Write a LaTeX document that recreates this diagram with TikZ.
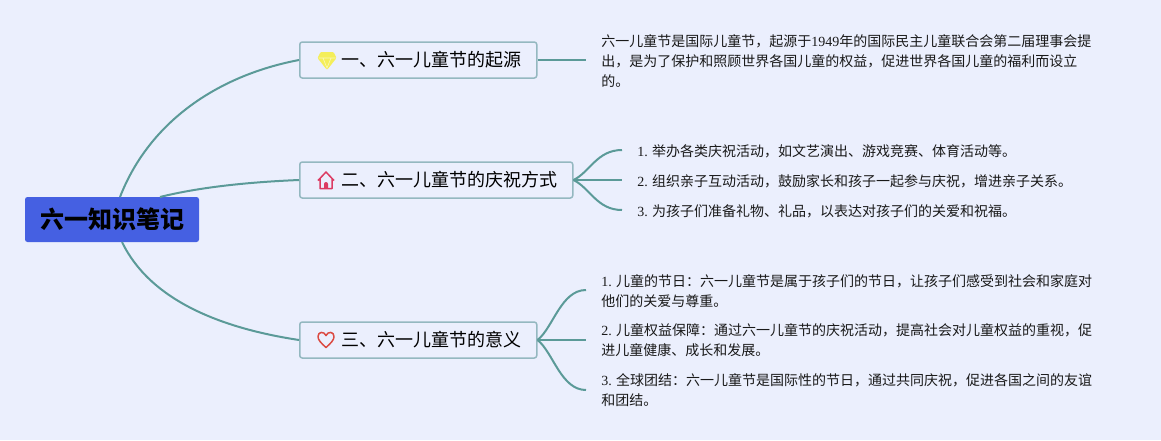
\documentclass[tikz,border=0pt]{standalone}
\usepackage{fontspec}
\setmainfont{Noto Sans CJK SC}
\newfontfamily\latin{Liberation Serif}
\usepackage{tikz}
\usetikzlibrary{arrows.meta,positioning,calc}
\definecolor{pagebg}{HTML}{EBEFFD}
\definecolor{rootblue}{HTML}{4560E2}
\definecolor{boxline}{HTML}{94B8C0}
\definecolor{linkteal}{HTML}{5B9A98}
\definecolor{gemyellow}{HTML}{F4EE5A}
\definecolor{housered}{HTML}{DC3B62}
\definecolor{heartred}{HTML}{DB4A42}

\begin{document}
\begin{tikzpicture}[
    x=1pt, y=-1pt,
    rootbox/.style={rectangle, fill=rootblue, rounded corners=2.5pt, inner sep=0pt,
                minimum width=174pt, minimum height=45pt,
                font=\fontsize{24}{28}\selectfont\bfseries},
    topic/.style={rectangle, draw=boxline, fill=pagebg, line width=1.5pt, rounded corners=2.5pt,
                inner sep=0pt, minimum height=36pt, anchor=west, align=left,
                font=\fontsize{18}{22}\selectfont},
    note/.style={anchor=west, align=left, inner xsep=15.2pt, inner ysep=0pt,
                font=\fontsize{14}{20}\selectfont, text=black!90},
    link/.style={draw=linkteal, line width=2pt},
]
\useasboundingbox (0,0) rectangle (1161,440);
\fill[pagebg] (0,0) rectangle (1161,440);

% --- Links from the root ---
\coordinate (roota) at (120,197);
\coordinate (rootb) at (160,197);
\coordinate (rootc) at (122,242);

% --- Root and topics ---
\node[rootbox] (root) at (112,219.5) {六一知识笔记};
\node[topic, minimum width=237pt, text width=237pt] (origin) at (299,60)
  {\hspace{42pt}一、六一儿童节的起源};
\node[topic, minimum width=273pt, text width=273pt] (ways) at (299,180)
  {\hspace{42pt}二、六一儿童节的庆祝方式};
\node[topic, minimum width=237pt, text width=237pt] (meaning) at (299,340)
  {\hspace{42pt}三、六一儿童节的意义};

% --- Notes ---
\node[note] (originnote) at (586,60.5) {六一儿童节是国际儿童节，起源于{\latin 1949}年的国际民主儿童联合会第二届理事会提\\
  出，是为了保护和照顾世界各国儿童的权益，促进世界各国儿童的福利而设立\\
  的。};
\node[note] (waysa) at (622,151) {{\latin 1.} 举办各类庆祝活动，如文艺演出、游戏竞赛、体育活动等。};
\node[note] (waysb) at (622,181) {{\latin 2.} 组织亲子互动活动，鼓励家长和孩子一起参与庆祝，增进亲子关系。};
\node[note] (waysc) at (622,211) {{\latin 3.} 为孩子们准备礼物、礼品，以表达对孩子们的关爱和祝福。};
\node[note] (meaninga) at (586,291.5) {{\latin 1.} 儿童的节日：六一儿童节是属于孩子们的节日，让孩子们感受到社会和家庭对\\
  他们的关爱与尊重。};
\node[note] (meaningb) at (586,340.5) {{\latin 2.} 儿童权益保障：通过六一儿童节的庆祝活动，提高社会对儿童权益的重视，促\\
  进儿童健康、成长和发展。};
\node[note] (meaningc) at (586,390.5) {{\latin 3.} 全球团结：六一儿童节是国际性的节日，通过共同庆祝，促进各国之间的友谊\\
  和团结。};

\draw[link] (roota) .. controls (150,120) and (220,75) .. (origin.west);
\draw[link] (rootb) .. controls (200,187) and (250,182) .. (ways.west);
\draw[link] (rootc) .. controls (150,300) and (220,328) .. (meaning.west);

% --- Links to notes ---
\draw[link] (origin.east) -- (originnote.west |- origin.east);
\foreach \a/\b/\c in {waysa/150/172, waysc/210/188}
  \draw[link] (ways.east) .. controls (590,\c) and (597,\b) .. (\a.west |- 622,\b);
\draw[link] (ways.east) -- (waysb.west |- ways.east);
\foreach \a/\b/\c in {meaninga/290/328, meaningc/390/352}
  \draw[link] (meaning.east) .. controls (553,\c) and (561,\b) .. (\a.west |- 586,\b);
\draw[link] (meaning.east) -- (meaningb.west |- meaning.east);

% --- Icons ---
\fill[gemyellow, rounded corners=1pt]
  (320.5,52) -- (333.5,52) -- (336.5,58) -- (327,70) -- (317.5,58) -- cycle;
\draw[white!60!gemyellow, line width=.6pt] (318.5,58) -- (335.5,58) (323,58) -- (327,68) -- (331,58);
\draw[housered, line width=1.5pt, line join=round]
  (318,180.5) -- (326,172) -- (334,180.5) (320,178) -- (320,188.5) -- (332,188.5) -- (332,178);
\fill[housered] (324,188) -- (324,184) arc[start angle=180, end angle=0, radius=2pt] -- (328,188) -- cycle;
\draw[heartred, line width=1.5pt, line join=round]
  (326,347.5) .. controls (321,343) and (318,340) .. (318,336.5)
  .. controls (318,331.5) and (324,331) .. (326,335.5)
  .. controls (328,331) and (334,331.5) .. (334,336.5)
  .. controls (334,340) and (331,343) .. (326,347.5) -- cycle;

\end{tikzpicture}
\end{document}
